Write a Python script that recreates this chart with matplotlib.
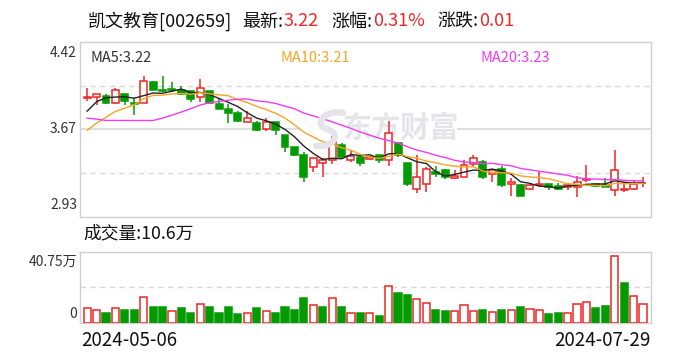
import numpy as np
import pandas as pd
import matplotlib
matplotlib.use("Agg")
import matplotlib.pyplot as plt
from matplotlib.patches import Rectangle, PathPatch
from matplotlib.path import Path

plt.rcParams['font.family'] = ['Noto Sans CJK SC', 'DejaVu Sans']

# 凯文教育 002659, daily bars 2024-05-06 .. 2024-07-29
first_date = "2024-05-06"
last_date = "2024-07-29"

# closes before the first bar, estimated from where the MA lines start
prior_close = [4.16, 4.12, 4.01, 3.92, 3.90, 4.09, 4.01, 3.60, 3.50, 3.44,
               3.36, 3.41, 3.50, 3.66, 3.58, 3.58, 3.73, 3.98, 3.91]

open_ = [3.94, 3.95, 3.96, 3.90, 3.98, 3.90, 3.90, 4.08, 4.01, 4.02,
         4.01, 4.00, 3.95, 4.00, 3.89, 3.85, 3.81, 3.74, 3.73, 3.68,
         3.74, 3.63, 3.52, 3.46, 3.35, 3.39, 3.41, 3.54, 3.41, 3.44,
         3.42, 3.46, 3.41, 3.56, 3.39, 3.17, 3.21, 3.31, 3.33, 3.26,
         3.27, 3.38, 3.40, 3.29, 3.34, 3.21, 3.20, 3.17, 3.20, 3.21,
         3.19, 3.18, 3.18, 3.24, 3.21, 3.20, 3.16, 3.16, 3.17, 3.22]
high = [4.03, 3.98, 3.98, 4.03, 3.98, 3.94, 4.13, 4.09, 4.13, 4.08,
        4.04, 4.00, 4.10, 4.00, 3.94, 3.89, 3.83, 3.83, 3.75, 3.77,
        3.74, 3.63, 3.52, 3.48, 3.43, 3.43, 3.62, 3.56, 3.50, 3.46,
        3.45, 3.46, 3.75, 3.57, 3.39, 3.46, 3.35, 3.36, 3.34, 3.33,
        3.41, 3.46, 3.41, 3.34, 3.36, 3.26, 3.21, 3.21, 3.31, 3.21,
        3.22, 3.22, 3.28, 3.37, 3.22, 3.26, 3.50, 3.23, 3.24, 3.27]
low = [3.92, 3.88, 3.89, 3.89, 3.88, 3.80, 3.90, 4.01, 3.99, 3.99,
       3.97, 3.91, 3.91, 3.90, 3.85, 3.73, 3.74, 3.74, 3.66, 3.66,
       3.63, 3.48, 3.45, 3.23, 3.31, 3.27, 3.38, 3.44, 3.40, 3.36,
       3.41, 3.39, 3.36, 3.44, 3.19, 3.13, 3.14, 3.27, 3.25, 3.25,
       3.27, 3.36, 3.25, 3.23, 3.18, 3.11, 3.11, 3.16, 3.19, 3.16,
       3.16, 3.16, 3.10, 3.23, 3.18, 3.18, 3.11, 3.14, 3.16, 3.18]
close = [3.95, 3.98, 3.90, 4.01, 3.92, 3.89, 4.09, 4.01, 4.00, 4.01,
         3.98, 3.93, 4.03, 3.90, 3.85, 3.81, 3.75, 3.77, 3.67, 3.74,
         3.67, 3.52, 3.46, 3.27, 3.43, 3.41, 3.57, 3.44, 3.45, 3.39,
         3.44, 3.41, 3.64, 3.46, 3.21, 3.27, 3.34, 3.29, 3.27, 3.28,
         3.37, 3.43, 3.27, 3.33, 3.20, 3.23, 3.11, 3.20, 3.21, 3.18,
         3.17, 3.20, 3.23, 3.25, 3.19, 3.18, 3.33, 3.17, 3.21, 3.22]
# volume in 万 shares
volume = [8.7, 7.5, 5.5, 8.7, 7.7, 7.7, 14.9, 9.4, 8.9, 7.0,
          8.3, 6.0, 10.9, 9.4, 6.0, 8.9, 4.9, 5.8, 8.3, 7.0,
          6.0, 9.4, 7.2, 14.5, 10.4, 8.9, 14.3, 8.9, 5.8, 6.0,
          5.8, 3.8, 21.1, 17.4, 16.2, 13.8, 11.5, 7.7, 6.6, 7.0,
          10.4, 7.0, 7.2, 6.4, 7.7, 7.5, 8.9, 8.1, 7.5, 4.9,
          6.0, 5.8, 10.9, 12.1, 8.3, 10.0, 38.1, 23.0, 15.5, 10.6]
vol_max = 40.75
price_top, price_bottom = 4.42, 2.93
ma_windows = [5, 10, 20]
ma_last = ["3.22", "3.21", "3.23"]

RED = "#ee2727"
GREEN = "#029c02"
MA_COLORS = ["#222222", "#f5a623", "#f03cf0"]
GRID = "#d9d9d9"
FRAME = "#d0d0d0"
WATERMARK = "#e4e4ea"

W, H = 688, 360
fig = plt.figure(figsize=(W / 100, H / 100), dpi=100)

def fx(px):
    return px / W

def fy(py):
    return 1 - py / H

ax = fig.add_axes([fx(80), fy(216.7), fx(571), 174.8 / H])
axv = fig.add_axes([fx(80), fy(323), fx(571), 71.3 / H])

n = len(close)
x = np.arange(n)
for a in (ax, axv):
    a.set_xlim(-0.76, n - 0.15)
    a.set_xticks([])
    a.set_yticks([])
    for s in a.spines.values():
        s.set_color(FRAME)
        s.set_linewidth(1.0)

ax.set_ylim(price_bottom, price_top)
axv.set_ylim(0, vol_max)

# grid lines
span = price_top - price_bottom
ax.axhline(price_bottom + span * 0.75, color=GRID, lw=1, ls=(0, (4, 3)), zorder=1)
ax.axhline(price_bottom + span * 0.5, color=GRID, lw=1.2, zorder=1)
ax.axhline(price_bottom + span * 0.25, color=GRID, lw=1, ls=(0, (4, 3)), zorder=1)
axv.axhline(vol_max / 2, color=GRID, lw=1, ls=(0, (4, 3)), zorder=1)

# watermark: white strip over the grid, swoosh logo and name
ax.add_patch(Rectangle(((300 - 80) / 571, 0.47), (457 - 300) / 571, 0.06,
                       transform=ax.transAxes, fc="white", ec="none", zorder=1.5))
logo_pts = [(fx(343), fy(113)), (fx(326), fy(109)), (fx(312), fy(124)), (fx(327), fy(129)),
            (fx(342), fy(134)), (fx(334), fy(148)), (fx(316), fy(146))]
logo = Path(logo_pts, [Path.MOVETO, Path.CURVE4, Path.CURVE4, Path.CURVE4,
                       Path.CURVE4, Path.CURVE4, Path.CURVE4])
fig.patches.append(PathPatch(logo, transform=fig.transFigure, fc="none",
                             ec=WATERMARK, lw=4.5, capstyle="round", zorder=0.5))
ax.text((400 - 80) / 571, (216.7 - 128) / 174.8, "东方财富", transform=ax.transAxes,
        ha="center", va="center", fontsize=21, fontweight="bold",
        color=WATERMARK, zorder=2)

# candles
prev = [prior_close[-1]] + close[:-1]
bw = 0.74
for i in range(n):
    o, h, l, c = open_[i], high[i], low[i], close[i]
    up = c > o or (c == o and c >= prev[i])
    lo_b, hi_b = min(o, c), max(o, c)
    if up:
        ax.vlines(i, hi_b, h, color=RED, lw=1.1, zorder=3)
        ax.vlines(i, l, lo_b, color=RED, lw=1.1, zorder=3)
        ax.add_patch(Rectangle((i - bw / 2, lo_b), bw, hi_b - lo_b,
                               fc="white", ec=RED, lw=1.1, zorder=3))
    else:
        ax.vlines(i, l, h, color=GREEN, lw=1.1, zorder=3)
        ax.add_patch(Rectangle((i - bw / 2, lo_b), bw, hi_b - lo_b,
                               fc=GREEN, ec=GREEN, lw=1.1, zorder=3))

# moving averages
all_close = pd.Series(prior_close + close)
for win, col in zip(ma_windows, MA_COLORS):
    ma = all_close.rolling(win).mean().to_numpy()[-n:]
    ax.plot(x, ma, color=col, lw=1.0, zorder=4)

# volume bars, coloured by change against previous close
vol_up = [close[i] >= prev[i] for i in range(n)]
for i in range(n):
    if vol_up[i]:
        axv.bar(i, volume[i], width=0.76, color="white", edgecolor=RED, lw=1.1, zorder=3)
    else:
        axv.bar(i, volume[i], width=0.76, color=GREEN, edgecolor=GREEN, lw=1.1, zorder=3)

# axis labels
tick_kw = dict(ha="right", fontsize=10, color="#333333")
fig.text(fx(77), fy(46), f"{price_top:.2f}", va="top", **tick_kw)
fig.text(fx(77), fy(129.3), f"{(price_top + price_bottom) / 2:.2f}", va="center", **tick_kw)
fig.text(fx(77), fy(212), f"{price_bottom:.2f}", va="bottom", **tick_kw)
fig.text(fx(77), fy(255), f"{vol_max:.2f}万", va="top", **tick_kw)
fig.text(fx(77), fy(321), "0", va="bottom", **tick_kw)

fig.text(fx(81), fy(340.5), first_date, ha="left", va="center", fontsize=13.5, color="#111111")
fig.text(fx(651), fy(340.5), last_date, ha="right", va="center", fontsize=13.5, color="#111111")

fig.text(fx(83), fy(233), f"成交量:{volume[-1]:.1f}万", ha="left", va="center",
         fontsize=12.8, color="#111111")

# MA legend
for xp, win, col, val in zip([90, 280, 480], ma_windows, MA_COLORS, ma_last):
    fig.text(fx(xp), fy(57.5), f"MA{win}:{val}", ha="left", va="center",
             fontsize=10.5, color=col if win != 5 else "#333333")

# title line with red values
renderer = fig.canvas.get_renderer()
chg = close[-1] - close[-2]
pct = chg / close[-2] * 100
parts = [("凯文教育[002659]", "#111111", 10), ("最新:", "#111111", 0),
         (f"{close[-1]:.2f}", RED, 13), ("涨幅:", "#111111", 0),
         (f"{pct:.2f}%", RED, 13), ("涨跌:", "#111111", 0),
         (f"{chg:.2f}", RED, 0)]
xpos = fx(88)
for s, col, gap in parts:
    t = fig.text(xpos, fy(21.5), s, ha="left", va="center", fontsize=13, color=col)
    bb = t.get_window_extent(renderer=renderer)
    xpos = (bb.x1 + gap) / W

fig.savefig("out.png", dpi=100)
